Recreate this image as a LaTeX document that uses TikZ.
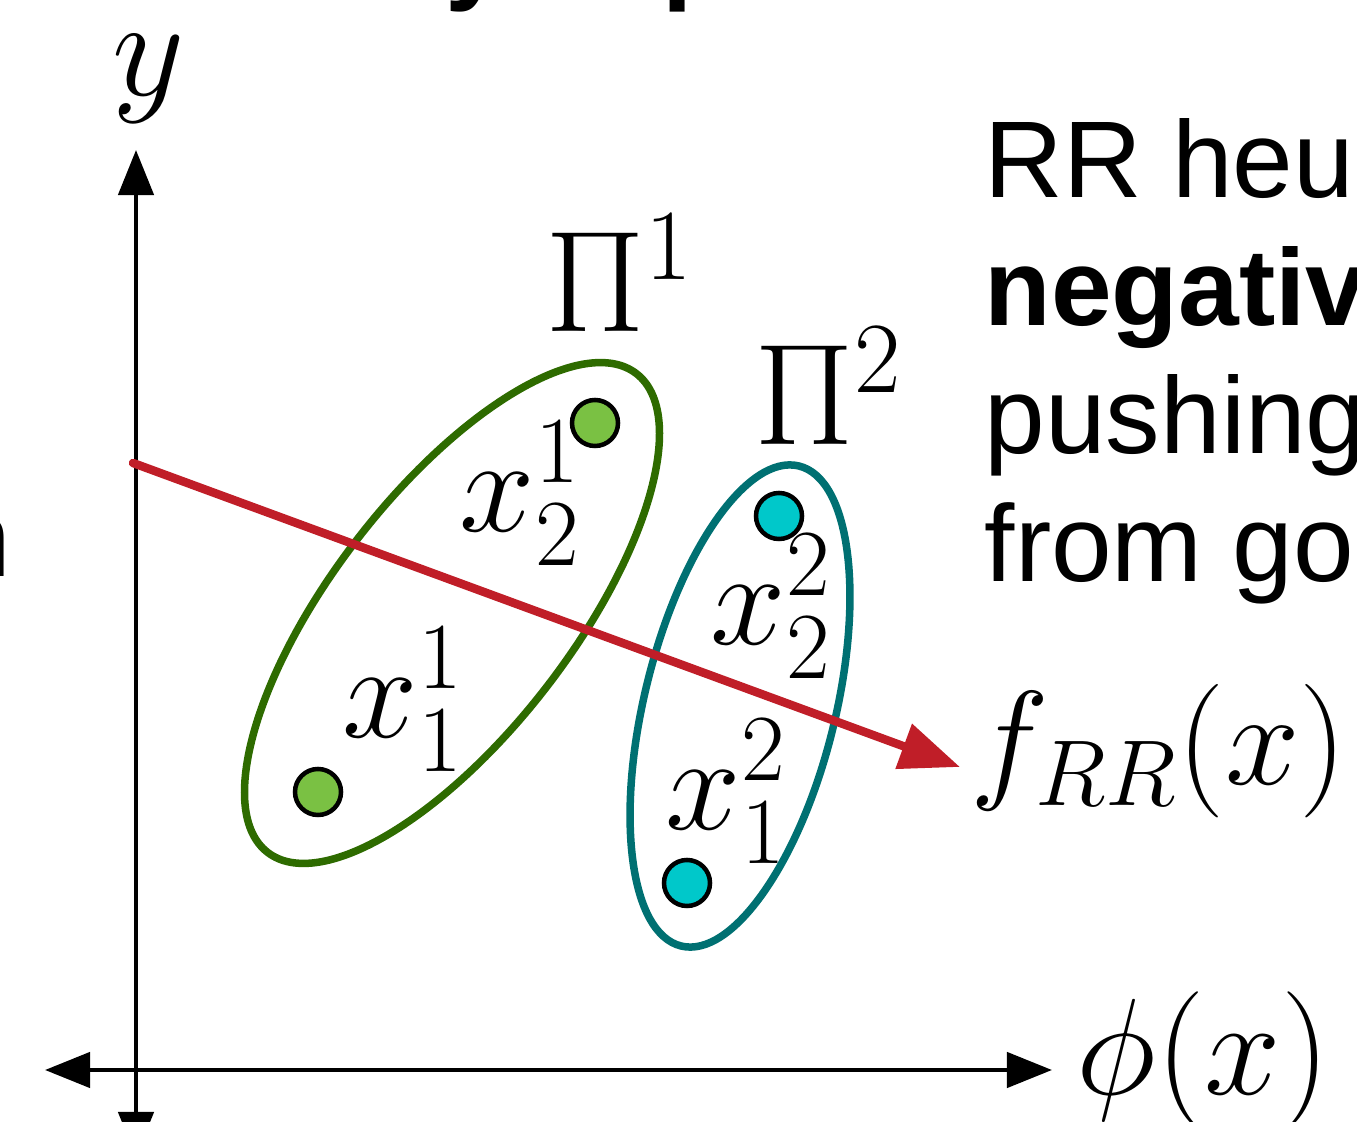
\RequirePackage{fix-cm}
\documentclass[tikz,border=0pt]{standalone}
\usepackage{fontspec}
\setsansfont{Liberation Sans}
\usetikzlibrary{arrows.meta,shapes.geometric}
\definecolor{setgreen}{HTML}{2E6B00}
\definecolor{dotgreen}{HTML}{7AC143}
\definecolor{setteal}{HTML}{007072}
\definecolor{dotcyan}{HTML}{00C8CA}
\definecolor{rrred}{HTML}{C01E28}

\begin{document}
\begin{tikzpicture}[
  x=0.01cm,y=-0.01cm,
  axis/.style={{Triangle[length=0.45cm,width=0.35cm]}-{Triangle[length=0.45cm,width=0.35cm]},
    line width=0.045cm,draw=black},
  cluster/.style={ellipse,draw,line width=0.075cm,inner sep=0pt},
  sample/.style={circle,draw=black,line width=0.045cm,minimum size=0.46cm,inner sep=0pt},
  mathlabel/.style={anchor=base west,inner sep=0pt,font=\fontsize{38.5}{42}\selectfont},
  prose/.style={anchor=base west,inner sep=0pt,align=left,
    font=\fontsize{31}{36.4}\selectfont\sffamily},
  push/.style={-{Triangle[length=0.6cm,width=0.46cm]},line width=0.085cm,
    draw=rrred,line cap=round}
]
\path[use as bounding box] (0,0) rectangle (1357,1122);
\clip (0,0) rectangle (1357,1122);

% text cut by the frame
\node[prose,font=\fontsize{31}{36.4}\selectfont\sffamily\bfseries] (titley) at (445,-10) {y};
\node[prose,font=\fontsize{31}{36.4}\selectfont\sffamily\bfseries] (titlep) at (662,-10) {p};
\node[prose,anchor=base east] (leftn) at (12,577) {n};
\node[prose] (note) at (984,582)
  {RR heu\\\textbf{negativ}\\pushing\\from go};

% axes
\coordinate (o) at (136,1070);
\coordinate (ytop) at (136,150);
\coordinate (ybot) at (136,1157);
\coordinate (xleft) at (45,1070);
\coordinate (xright) at (1052,1070);
\draw[axis] (ybot) -- (ytop);
\draw[axis] (xleft) -- (xright);
\node[mathlabel,font=\fontsize{40}{44}\selectfont] (ylab) at (112,96) {$y$};
\node[mathlabel,font=\fontsize{39}{44}\selectfont] (philab) at (1076,1095) {$\phi(x)$};

% the two sets
\node[cluster,draw=setgreen,minimum width=6.04cm,minimum height=2.40cm,
  rotate=52.4] (pione) at (452,613) {};
\node[cluster,draw=setteal,minimum width=4.94cm,minimum height=1.91cm,
  rotate=76.2] (pitwo) at (740,706) {};
\node[mathlabel,font=\fontsize{41}{44}\selectfont] (pionelab) at (545,332) {$\Pi^1$};
\node[mathlabel,font=\fontsize{41}{44}\selectfont] (pitwolab) at (754,445) {$\Pi^2$};

\node[sample,fill=dotgreen] (xa1) at (318,792) {};
\node[sample,fill=dotgreen] (xa2) at (595,423) {};
\node[sample,fill=dotcyan] (xb1) at (687,883) {};
\node[sample,fill=dotcyan] (xb2) at (779,516) {};
\node[mathlabel] (xa1lab) at (342,738) {$x^1_1$};
\node[mathlabel] (xa2lab) at (459,532) {$x^1_2$};
\node[mathlabel] (xb1lab) at (665,830) {$x^2_1$};
\node[mathlabel] (xb2lab) at (710,645) {$x^2_2$};

% RR direction
\coordinate (rrstart) at (133,463);
\coordinate (rrtip) at (960,767);
\draw[push] (rrstart) -- (rrtip);
\node[mathlabel,font=\fontsize{38}{42}\selectfont] (rrlab) at (970,785) {$f_{RR}(x)$};
\end{tikzpicture}
\end{document}
